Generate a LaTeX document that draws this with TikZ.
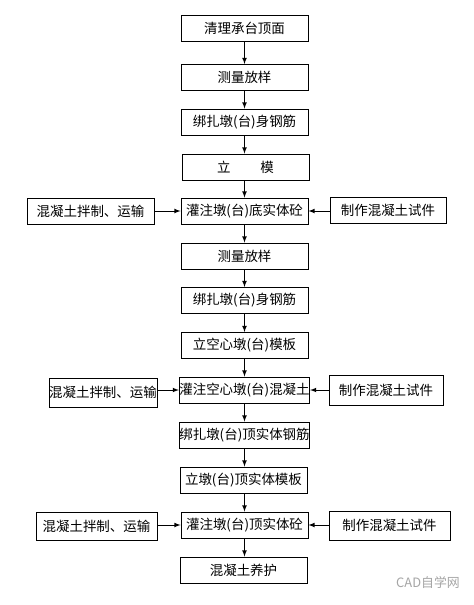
\documentclass[tikz,border=0pt]{standalone}
\usepackage{fontspec}
\setmainfont{Noto Sans CJK SC}
\usetikzlibrary{arrows}
\tikzset{box/.style={draw, line width=0.8pt, minimum width=3.81cm, minimum height=0.78cm, inner sep=0pt,
   font=\fontsize{11.5pt}{13pt}\selectfont},
 flow/.style={draw, line width=0.8pt, ->, >=latex},
 }

\begin{document}
\begin{tikzpicture}[x=0.03cm, y=-0.03cm]
        \useasboundingbox[fill=white] (0,0) rectangle (474,605);
        % main column
        \node[box] (clean) at (244.5, 28.5) {清理承台顶面};
        \node[box] (survey1) at (244.5, 77.5) {测量放样};
        \node[box] (rebar1) at (244.5, 122) {绑扎墩(台)身钢筋};
        \node[box] (form1) at (245.5, 167) {立\hspace{2.2em}模};
        \node[box] (pour1) at (244.5, 211) {灌注墩(台)底实体砼};
        \node[box] (survey2) at (244.5, 256) {测量放样};
        \node[box] (rebar2) at (244.5, 300.5) {绑扎墩(台)身钢筋};
        \node[box] (form2) at (244.5, 345.5) {立空心墩(台)模板};
        \node[box] (pour2) at (244.5, 390) {灌注空心墩(台)混凝土};
        \node[box] (rebar3) at (244.5, 435) {绑扎墩(台)顶实体钢筋};
        \node[box] (form3) at (243.5, 480) {立墩(台)顶实体模板};
        \node[box] (pour3) at (244.5, 525) {灌注墩(台)顶实体砼};
        \node[box] (cure) at (243.5, 570) {混凝土养护};

        % side boxes
        \node[box, minimum width=3.81cm] (mix1) at (90.5, 211) {混凝土拌制、运输};
        \node[box, minimum width=3.48cm] (test1) at (388, 210.5) {制作混凝土试件};
        \node[box, minimum width=3.24cm, minimum height=0.87cm] (mix2) at (103, 392.5) {混凝土拌制、运输};
        \node[box, minimum width=3.42cm, minimum height=0.9cm] (test2) at (386, 390) {制作混凝土试件};
        \node[box, minimum width=3.63cm, minimum height=0.84cm] (mix3) at (96.5, 526) {混凝土拌制、运输};
        \node[box, minimum width=3.63cm, minimum height=0.87cm] (test3) at (389.5, 525.5) {制作混凝土试件};

        % arrows
        \draw[flow] (clean) -- (survey1);
        \draw[flow] (survey1) -- (rebar1);
        \draw[flow] (rebar1) -- (rebar1 |- form1.north);
        \draw[flow] (form1.south -| pour1) -- (pour1);
        \draw[flow] (pour1) -- (survey2);
        \draw[flow] (survey2) -- (rebar2);
        \draw[flow] (rebar2) -- (form2);
        \draw[flow] (form2) -- (pour2);
        \draw[flow] (pour2) -- (rebar3);
        \draw[flow] (rebar3) -- (rebar3 |- form3.north);
        \draw[flow] (form3.south -| pour3) -- (pour3);
        \draw[flow] (pour3) -- (pour3 |- cure.north);
        \draw[flow] (mix1.east |- pour1) -- (pour1);
        \draw[flow] (test1.west |- pour1) -- (pour1);
        \draw[flow] (mix2.east |- pour2) -- (pour2);
        \draw[flow] (test2.west |- pour2) -- (pour2);
        \draw[flow] (mix3.east |- pour3) -- (pour3);
        \draw[flow] (test3.west |- pour3) -- (pour3);

        \node[text=black!35, font=\fontsize{11pt}{12pt}\selectfont] (mark) at (428, 583) {CAD自学网};
    \end{tikzpicture}
\end{document}
